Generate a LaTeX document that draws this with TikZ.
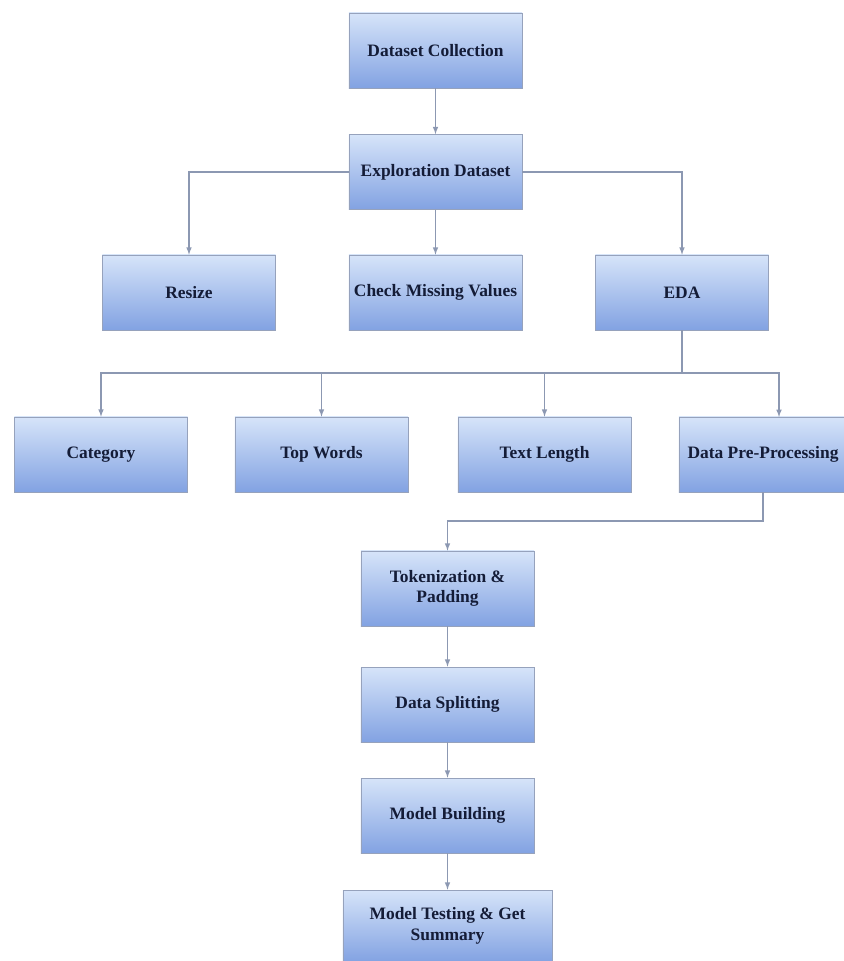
\documentclass[tikz,border=0pt]{standalone}
\usepackage{fontspec}
\setmainfont{Liberation Serif}
\definecolor{boxtop}{RGB}{214,228,249}
\definecolor{boxbot}{RGB}{130,162,226}
\definecolor{boxline}{RGB}{150,162,188}
\definecolor{wire}{RGB}{140,152,178}
\definecolor{ink}{RGB}{20,28,55}
\begin{document}
\begin{tikzpicture}
    [
    x=0.025cm,y=-0.025cm,
    stage/.style={rectangle,draw=boxline,top color=boxtop,bottom color=boxbot,inner sep=2pt,minimum width=4.325cm,minimum height=1.875cm,align=center,font=\fontsize{12.4}{14.5}\selectfont\bfseries,text=ink},
    link/.style={draw=wire,line width=0.8pt,-latex},
    wire/.style={draw=wire,line width=0.8pt}
    ]
    \useasboundingbox (0,0) rectangle (843,961);
    \node (0) at (435.5,50.5) [stage] {Dataset Collection};
    \node (1) at (435.5,172) [stage] {Exploration Dataset};
    \node (2) at (189,292.5) [stage] {Resize};
    \node (3) at (435.5,292.5) [stage] {Check Missing Values};
    \node (4) at (682,292.5) [stage] {EDA};
    \node (5) at (101,454.5) [stage] {Category};
    \node (6) at (321.5,454.5) [stage] {Top Words};
    \node (7) at (544.5,454.5) [stage] {Text Length};
    \node (8) at (763,454.5) [stage,minimum width=4.2cm] {Data Pre-Processing};
    \node (9) at (447.5,588.5) [stage] {Tokenization \&\\Padding};
    \node (10) at (447.5,704.5) [stage] {Data Splitting};
    \node (11) at (447.5,815.5) [stage] {Model Building};
    \node (12) at (447.5,926) [stage,minimum width=5.225cm,minimum height=1.8cm] {Model Testing \& Get\\Summary};
    \coordinate (e) at (682,373);
    \coordinate (8in) at (779,417);
    \coordinate (d) at (763,521);
    \draw [link] (0) to (1);
    \draw [link] (1.west) -| (2.north);
    \draw [link] (1) to (3);
    \draw [link] (1.east) -| (4.north);
    \draw [wire] (4.south) to (e);
    \draw [link] (e) -| (5.north);
    \draw [link] (6.north |- e) to (6.north);
    \draw [link] (7.north |- e) to (7.north);
    \draw [link] (e) -| (8in);
    \draw [link] (8.south) -- (d) -| (9.north);
    \draw [link] (9) to (10);
    \draw [link] (10) to (11);
    \draw [link] (11) to (12);
  \end{tikzpicture}
\end{document}
